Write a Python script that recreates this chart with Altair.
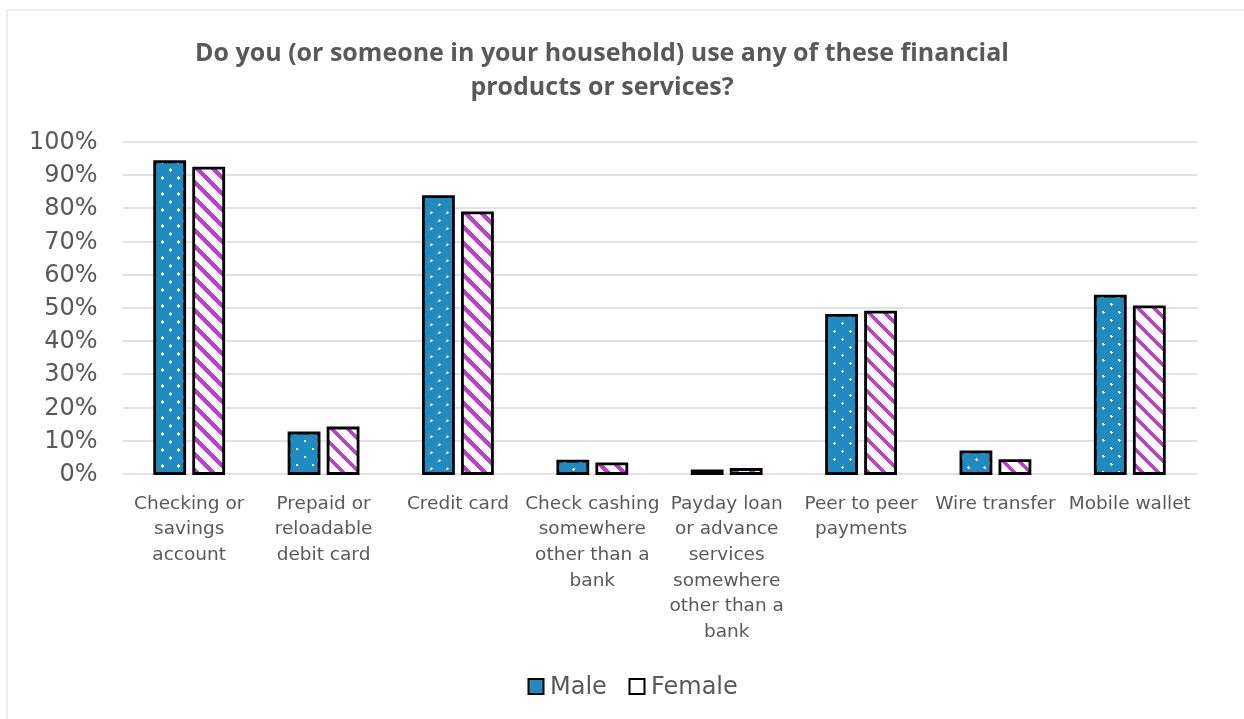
import math
import altair as alt

# ---------------- data ----------------
categories = [
    "Checking or\nsavings\naccount",
    "Prepaid or\nreloadable\ndebit card",
    "Credit card",
    "Check cashing\nsomewhere\nother than a\nbank",
    "Payday loan\nor advance\nservices\nsomewhere\nother than a\nbank",
    "Peer to peer\npayments",
    "Wire transfer",
    "Mobile wallet",
]
series = ["Male", "Female"]
male_values = [0.939, 0.122, 0.834, 0.037, 0.008, 0.476, 0.065, 0.534]
female_values = [0.920, 0.137, 0.785, 0.029, 0.012, 0.486, 0.039, 0.502]
y_ticks = [0.0, 0.1, 0.2, 0.3, 0.4, 0.5, 0.6, 0.7, 0.8, 0.9, 1.0]
title_lines = [
    "Do you (or someone in your household) use any of these financial",
    "products or services?",
]

# ---------------- styles / layout ----------------
BLUE = "#1F8BC1"
MAGENTA = "#C03DD2"
WHITE = "#FFFFFF"
TEXT = "#595959"
GRID = "#D9D9D9"
FONT = "DejaVu Sans"

LEFT, TOP = 122, 141.5
W, H = 1075, 332
TOTAL_W, TOTAL_H = 1244, 719
N = len(categories)
STEP = W / N
GROUP = 69.0
BAR_W = 30.0
GAP = GROUP - 2 * BAR_W
PAD_INNER = 1 - GROUP / STEP
OFF_INNER = GAP / (BAR_W + GAP)


def stripes(w, h, direction, period, width, on, off, phase=0.0):
    """Linear gradient (bounding-box units) that draws 45-degree stripes."""
    k = (w + h) / (w * w + h * h)
    if direction == "/":
        s0, s1 = 0.0, w + h
        x1, y1, x2, y2 = 0, 0, k * w, k * h
    else:
        s0, s1 = -h, w
        x1, y1, x2, y2 = 0, 1, k * w, 1 - k * h
    span = s1 - s0
    stops = []
    n0 = math.floor(s0 / period) - 1
    n1 = math.ceil(s1 / period) + 1
    for n in range(n0, n1 + 1):
        a = n * period + phase
        b = a + width
        c = a + period
        for p, col in ((a, on), (b, on), (b, off), (c, off)):
            t = (p - s0) / span
            if 0 <= t <= 1:
                stops.append({"offset": round(t, 5), "color": col})
    if not stops:
        stops = [{"offset": 0, "color": off}, {"offset": 1, "color": off}]
    return {"gradient": "linear", "x1": x1, "y1": y1, "x2": x2, "y2": y2,
            "stops": stops}


rows = []
for cat, mv, fv in zip(categories, male_values, female_values):
    for g, v in (("Male", mv), ("Female", fv)):
        h = v * H
        if g == "Male":
            ga = stripes(BAR_W, h, "/", 16, 3.6, WHITE, BLUE, phase=6)
            gb = stripes(BAR_W, h, "\\", 16, 3.6, WHITE, BLUE, phase=6)
        else:
            ga = stripes(BAR_W, h, "\\", 16, 5.5, MAGENTA, WHITE)
            gb = None
        rows.append({"category": cat, "gender": g, "value": v,
                     "gradA": ga, "gradB": gb})

data = alt.Data(values=rows)
one = alt.Data(values=[{"k": 0}])

base = alt.Chart(data).encode(
    x=alt.X(
        "category:N",
        sort=categories,
        scale=alt.Scale(paddingInner=PAD_INNER, paddingOuter=PAD_INNER / 2),
        axis=alt.Axis(
            title=None, labelAngle=0, domain=False, ticks=False,
            labelExpr="split(datum.label, '\\n')",
            labelFontSize=18.5, labelLineHeight=25.7, labelPadding=19.5,
            labelColor=TEXT, labelFont=FONT, labelBaseline="top",
        ),
    ),
    xOffset=alt.XOffset(
        "gender:N", sort=series,
        scale=alt.Scale(domain=series, paddingInner=OFF_INNER, paddingOuter=0),
    ),
    y=alt.Y(
        "value:Q",
        scale=alt.Scale(domain=[0, 1], nice=False),
        axis=alt.Axis(
            title=None, format="%", values=y_ticks, domain=False, ticks=False,
            labelFontSize=24, labelColor=TEXT, labelFont=FONT, labelPadding=25,
            grid=True, gridColor=GRID, gridWidth=1.3,
        ),
    ),
)

bars = base.mark_bar(stroke="black", strokeWidth=2.8).encode(
    fill=alt.Fill("gradA:N", scale=None)
)

dots = base.transform_filter(alt.datum.gender == "Male").mark_bar(
    blend="darken", strokeWidth=0
).encode(fill=alt.Fill("gradB:N", scale=None))

legend_layer = base.mark_point(filled=True, opacity=0, shape="square").encode(
    color=alt.Color(
        "gender:N",
        sort=series,
        scale=alt.Scale(domain=series, range=[BLUE, WHITE]),
        legend=alt.Legend(
            title=None, orient="none", legendX=402, legendY=533,
            direction="horizontal", symbolType="square", symbolSize=225,
            symbolStrokeColor="black", symbolStrokeWidth=2, symbolOpacity=1,
            labelFontSize=24, labelColor=TEXT, labelFont=FONT,
            columnPadding=18, labelOffset=2, padding=0,
        ),
    )
)

title_text = alt.Chart(one).mark_text(
    font="Open Sans", fontSize=25, fontWeight="bold", color=TEXT,
    align="center", baseline="alphabetic", lineHeight=34,
).encode(
    x=alt.value(602 - LEFT), y=alt.value(61 - TOP), text=alt.value(title_lines)
)

border_top = alt.Chart(one).mark_rule(color=GRID, strokeWidth=1).encode(
    x=alt.value(7 - LEFT), x2=alt.value(TOTAL_W + 10 - LEFT),
    y=alt.value(10 - TOP),
)
border_left = alt.Chart(one).mark_rule(color=GRID, strokeWidth=1).encode(
    x=alt.value(7 - LEFT), y=alt.value(10 - TOP),
    y2=alt.value(TOTAL_H + 10 - TOP),
)

chart = alt.layer(
    border_top, border_left, title_text, bars, dots, legend_layer
).properties(
    width=W,
    height=H,
    padding={"left": LEFT, "top": TOP, "right": TOTAL_W - LEFT - W,
             "bottom": TOTAL_H - TOP - H},
    autosize=alt.AutoSizeParams(type="none"),
    background="white",
).configure_view(stroke=None)

chart.save("out.html", embed_options={"renderer": "svg", "actions": False})
